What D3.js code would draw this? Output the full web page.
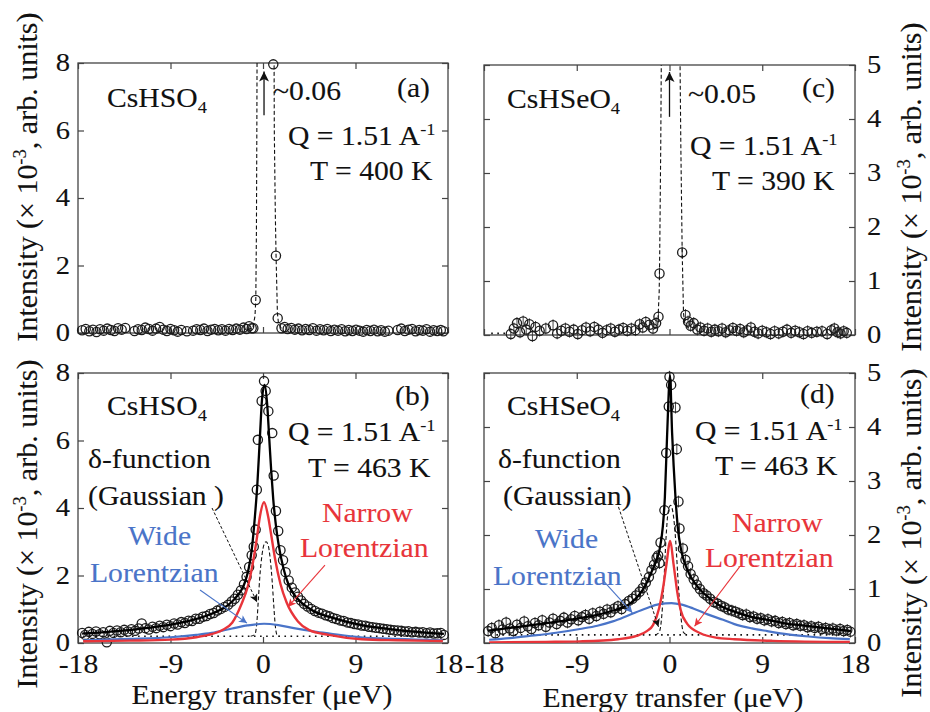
<!DOCTYPE html>
<html lang="en">
<head>
<meta charset="utf-8">
<style>
  body { margin: 0; background: #fff; }
  svg text { font-family: "Liberation Serif", "Times New Roman", serif; fill: #111; stroke: #111; stroke-width: 0.1; }
  .tick line { stroke: #444; stroke-width: 1.2; }
</style>
<script src="https://d3js.org/d3.v7.min.js"></script>
</head>
<body>
<script>
// ---- axes ----
const xTicks = [-18, -9, 0, 9, 18];
const yTicksSO4 = [0, 2, 4, 6, 8];
const yTicksSeO4 = [0, 1, 2, 3, 4, 5];

// ---- (a) CsHSO4, 400 K : points [E, I] ----
const ptsA = [[-17.6,0.08],[-17.25,0.12],[-16.9,0.05],[-16.55,0.10],[-16.2,0.03],[-15.85,0.11],[-15.5,0.07],[-15.15,0.13],[-14.8,0.09],[-14.45,0.06],[-14.1,0.14],[-13.75,0.10],[-13.4,0.15],
  [-12.5,0.06],[-12.15,0.11],[-11.8,0.09],[-11.45,0.16],[-11.1,0.12],[-10.75,0.07],[-10.4,0.13],[-10.05,0.18],[-9.7,0.10],[-9.35,0.06],[-9.0,0.12],[-8.65,0.08],[-8.3,0.04],[-7.95,0.09],[-7.4,0.05],
  [-6.8,0.07],[-6.45,0.11],[-6.1,0.09],[-5.75,0.13],[-5.4,0.06],[-5.05,0.10],[-4.7,0.12],[-4.35,0.08],[-4.0,0.11],[-3.65,0.07],[-3.3,0.12],[-2.95,0.09],[-2.6,0.13],[-2.25,0.10],[-1.9,0.16],[-1.6,0.12],[-1.35,0.20],[-1.1,0.14],[-0.94,0.14],[-0.71,0.98],
  [1.0,7.96],[1.26,2.29],[1.43,0.44],[1.8,0.14],[2.1,0.18],[2.4,0.12],[2.75,0.15],[3.1,0.10],[3.45,0.13],[3.8,0.08],[4.15,0.12],[4.5,0.09],[4.85,0.14],[5.2,0.07],[5.55,0.11],[5.9,0.08],[6.25,0.12],[6.6,0.06],[6.95,0.10],[7.3,0.07],[7.65,0.11],[8.0,0.05],[8.35,0.09],[8.7,0.06],[9.05,0.10],[9.4,0.07],[9.75,0.04],[10.1,0.09],[10.45,0.06],[10.8,0.10],[11.15,0.05],[11.5,0.08],[11.85,0.04],[12.2,0.07],
  [13.1,0.09],[13.45,0.13],[13.8,0.06],[14.15,0.10],[14.5,0.12],[14.85,0.05],[15.2,0.09],[15.55,0.07],[15.9,0.11],[16.25,0.04],[16.6,0.08],[16.95,0.06],[17.3,0.09],[17.55,0.05]];
const deltaA = [[-1.5,0.1],[-1.0,0.15],[-0.78,0.5],[-0.7,1.0],[-0.64,3],[-0.6,6],[-0.57,9],[0.25,60],[1.07,9],[1.1,6],[1.2,3.5],[1.27,2.3],[1.4,0.6],[1.5,0.3],[1.8,0.12]];
const arrowA = [[0.1,6.45],[0.1,7.75]];

// ---- (c) CsHSeO4, 390 K ----
const ptsC = [[-15.4,0.02],[-15.1,0.12],[-14.8,0.22],[-14.5,0.05],[-14.2,0.25],[-13.9,0.10],[-13.6,0.20],[-13.3,-0.02],[-13.0,0.15],[-12.6,0.08],
  [-12.0,0.12],[-11.3,0.18],[-10.9,0.03],[-10.5,0.08],[-10.1,0.12],[-9.7,0.06],[-9.3,0.10],[-8.9,0.02],[-8.5,0.09],[-8.1,0.14],[-7.7,0.07],[-7.3,0.15],[-6.9,0.10],[-6.5,0.04],[-6.1,0.09],[-5.7,0.12],[-5.3,0.06],[-4.9,0.10],[-4.5,0.13],[-4.1,0.08],[-3.7,0.12],[-3.3,0.09],[-2.9,0.20],[-2.6,0.14],[-2.3,0.24],[-1.95,0.19],[-1.6,0.12],[-1.3,0.22],[-1.07,0.34],[-0.97,1.14],
  [1.23,1.53],[1.55,0.37],[1.8,0.25],[2.05,0.17],[2.35,0.22],[2.7,0.10],[3.0,0.14],[3.35,0.08],[3.7,0.12],[4.05,0.06],[4.4,0.10],[4.75,0.07],[5.1,0.12],[5.45,0.05],[5.8,0.09],[6.15,0.13],[6.5,0.08],[6.85,0.11],[7.2,0.05],[7.55,0.09],[7.9,0.14],[8.25,0.06],[8.6,0.03],[9.0,0.08],[9.4,0.05],[9.8,0.02],[10.2,0.07],[10.6,0.03],[11.0,0.06],[11.4,0.10],[11.8,0.04],[12.2,0.08],[12.6,0.05],[13.0,0.02],[13.4,0.07],[13.8,0.04],[14.3,0.06],[14.8,0.07],[15.3,0.02],[15.7,0.09],[16.0,0.12],[16.3,0.05],[16.6,0.03],[16.9,0.07],[17.2,0.04]];
const deltaC = [[-1.6,0.1],[-1.15,0.15],[-1.0,0.8],[-0.95,1.5],[-0.85,3.5],[-0.78,5.5],[0.1,50],[1.0,5.5],[1.1,3.5],[1.23,1.55],[1.36,0.4],[1.5,0.2],[2.0,0.1]];
const bgC = [[-17.3,0.03],[-15.6,0.03]];
const arrowC = [[0,4.04],[0,4.87]];

// ---- (b) CsHSO4, 463 K ----
const ptsB = [[-17.6,0.30],[-17.3,0.24],[-16.95,0.33],[-16.6,0.27],[-16.25,0.34],[-15.9,0.26],[-15.55,0.32],[-15.2,0.02],[-14.9,0.36],[-14.55,0.30],[-14.2,0.37],[-13.85,0.32],[-13.5,0.39],[-13.15,0.34],[-12.8,0.41],[-12.45,0.36],[-12.1,0.43],[-11.8,0.58],[-11.45,0.44],[-11.1,0.40],[-10.75,0.48],[-10.4,0.44],[-10.05,0.51],[-9.7,0.47],[-9.35,0.54],[-9.0,0.50],[-8.65,0.58],[-8.3,0.55],[-7.95,0.62],[-7.6,0.59],[-7.25,0.66],[-6.9,0.65],[-6.55,0.72],[-6.2,0.72],[-5.85,0.78],[-5.5,0.80],[-5.15,0.86],[-4.8,0.89],[-4.45,0.96],[-4.1,1.01],[-3.75,1.07],[-3.4,1.13],[-3.05,1.23],[-2.75,1.31],[-2.45,1.43],[-2.15,1.56],[-1.85,1.74],[-1.6,1.96],[-1.35,2.25],[-1.1,2.6],[-0.9,2.85],[-0.71,3.36],[-0.6,4.54],[-0.5,6.02],[-0.13,7.17],
  [0.1,7.76],[0.26,7.47],[0.52,6.87],[0.9,6.22],[1.04,4.96],[1.26,3.91],[1.48,3.32],[1.7,2.75],[1.95,2.45],[2.2,2.1],[2.5,1.85],[2.8,1.64],[3.1,1.5],[3.4,1.37],[3.7,1.26],[4.0,1.16],[4.35,1.08],[4.7,1.01],[5.05,0.95],[5.4,0.9],[5.75,0.87],[6.1,0.82],[6.45,0.79],[6.8,0.74],[7.15,0.71],[7.5,0.67],[7.85,0.65],[8.2,0.61],[8.55,0.59],[8.9,0.56],[9.25,0.55],[9.6,0.52],[9.95,0.51],[10.3,0.48],[10.65,0.47],[11.0,0.45],[11.35,0.44],[11.7,0.42],[12.05,0.41],[12.4,0.39],[12.75,0.38],[13.1,0.37],[13.45,0.36],[13.8,0.34],[14.15,0.35],[14.5,0.32],[14.85,0.33],[15.2,0.31],[15.55,0.32],[15.9,0.29],[16.25,0.31],[16.6,0.28],[16.95,0.29],[17.3,0.30],[17.6,0.24]];
const totalB = [[-17.6,0.28],[-16,0.31],[-14,0.36],[-12,0.42],[-10,0.5],[-8.6,0.57],[-7,0.67],[-5.3,0.83],[-4.5,0.93],[-3.7,1.06],[-3,1.23],[-2.5,1.4],[-2.1,1.57],[-1.7,1.85],[-1.4,2.2],[-1.1,2.75],[-0.8,3.7],[-0.55,4.7],[-0.3,6.1],[-0.1,7.2],[0.15,7.65],[0.4,7.1],[0.6,6.1],[0.8,5.1],[1.0,4.25],[1.25,3.5],[1.5,2.95],[2.0,2.2],[2.5,1.72],[3.0,1.45],[3.8,1.18],[5,0.93],[6.4,0.78],[8,0.64],[9.6,0.53],[11,0.46],[12.9,0.39],[15,0.33],[17.6,0.27]];
const narrowB = [[-17.5,0.05],[-13,0.07],[-9,0.1],[-6.5,0.17],[-5.3,0.24],[-4,0.38],[-3,0.6],[-2.1,1.15],[-1.5,1.65],[-1.0,2.35],[-0.6,3.1],[-0.3,3.75],[0.1,4.17],[0.5,3.75],[0.8,3.2],[1.2,2.45],[1.7,1.75],[2.3,1.2],[3.4,0.64],[4.5,0.38],[6.4,0.24],[9.6,0.11],[13,0.08],[17.5,0.06]];
const wideB = [[-17.5,0.08],[-13,0.12],[-9,0.17],[-6.5,0.24],[-5,0.3],[-3,0.43],[-1.5,0.52],[0.1,0.57],[1.5,0.53],[3,0.44],[5,0.34],[6.5,0.28],[9.5,0.17],[13,0.12],[17.5,0.08]];
const deltaB = [[-1.2,0.2],[-0.8,0.25],[-0.6,0.6],[-0.45,1.3],[-0.3,2.0],[-0.1,2.6],[0.1,2.92],[0.3,3.0],[0.5,2.9],[0.7,2.5],[0.9,1.8],[1.05,1.1],[1.2,0.5],[1.35,0.25],[1.6,0.2]];
const bgB = [[-17.5,0.2],[17.5,0.2]];
const arrowsB = { delta: [[-4.96,4.0],[-0.58,1.21]], wide: [[-6.13,1.57],[-1.56,0.59]], narrow: [[6.03,2.31],[2.43,1.07]] };

// ---- (d) CsHSeO4, 463 K ----
const ptsD = [[-17.6,0.22],[-17.25,0.28],[-16.9,0.18],[-16.55,0.33],[-16.2,0.25],[-15.85,0.38],[-15.5,0.27],[-15.15,0.22],[-14.8,0.34],[-14.45,0.28],[-14.1,0.40],[-13.75,0.31],[-13.4,0.26],[-13.05,0.37],[-12.7,0.33],[-12.35,0.42],[-12.0,0.30],[-11.65,0.38],[-11.3,0.45],[-10.95,0.35],[-10.6,0.41],[-10.25,0.47],[-9.9,0.38],[-9.55,0.44],[-9.2,0.50],[-8.85,0.42],[-8.5,0.48],[-8.15,0.52],[-7.8,0.45],[-7.45,0.55],[-7.1,0.50],[-6.75,0.58],[-6.4,0.54],[-6.05,0.62],[-5.7,0.57],[-5.35,0.64],[-5.0,0.68],[-4.65,0.63],[-4.3,0.72],[-3.95,0.78],[-3.6,0.82],[-3.25,0.88],[-2.9,0.95],[-2.6,1.02],[-2.3,1.12],[-2.0,1.22],[-1.75,1.35],[-1.5,1.45],[-1.25,1.58],[-1.1,1.62],[-0.97,1.48],[-0.87,1.86],[-0.49,2.46],[-0.32,3.52],[-0.07,4.38],
  [0.0,4.93],[0.16,4.78],[0.58,4.36],[0.71,3.59],[0.87,2.62],[0.97,2.12],[1.3,1.75],[1.55,1.54],[1.8,1.42],[2.05,1.28],[2.35,1.18],[2.65,1.08],[2.95,1.0],[3.3,0.92],[3.6,0.88],[3.95,0.82],[4.3,0.76],[4.65,0.73],[5.0,0.69],[5.35,0.66],[5.7,0.62],[6.05,0.6],[6.4,0.58],[6.75,0.55],[7.1,0.52],[7.45,0.53],[7.8,0.48],[8.15,0.49],[8.5,0.45],[8.85,0.46],[9.2,0.42],[9.55,0.44],[9.9,0.40],[10.25,0.41],[10.6,0.37],[10.95,0.39],[11.3,0.35],[11.65,0.37],[12.0,0.33],[12.35,0.35],[12.7,0.32],[13.05,0.33],[13.4,0.29],[13.75,0.31],[14.1,0.28],[14.45,0.30],[14.8,0.26],[15.15,0.28],[15.5,0.25],[15.85,0.27],[16.2,0.23],[16.55,0.26],[16.9,0.22],[17.25,0.24],[17.55,0.21]];
const totalD = [[-17.6,0.23],[-15,0.29],[-13,0.34],[-11,0.39],[-8.7,0.46],[-7,0.52],[-5.5,0.6],[-4.5,0.66],[-3.9,0.72],[-3,0.88],[-2.3,1.08],[-1.9,1.25],[-1.3,1.52],[-0.97,1.72],[-0.65,2.15],[-0.45,2.7],[-0.23,3.86],[0.05,4.95],[0.25,3.9],[0.58,2.7],[0.8,2.15],[1.13,1.72],[1.5,1.47],[1.94,1.27],[2.5,1.1],[3,0.98],[3.7,0.86],[5,0.68],[6.3,0.58],[8,0.48],[9.5,0.43],[11,0.37],[12.7,0.33],[15,0.28],[17.6,0.22]];
const narrowD = [[-17.5,0.01],[-12,0.02],[-8.7,0.03],[-5,0.07],[-3.2,0.13],[-2.2,0.22],[-1.6,0.33],[-1.0,0.65],[-0.6,1.05],[-0.3,1.45],[0.07,1.89],[0.4,1.45],[0.75,0.95],[1.1,0.6],[1.7,0.36],[3,0.18],[4.5,0.1],[6.3,0.07],[10,0.04],[17.5,0.02]];
const wideD = [[-17.5,0.06],[-15.5,0.09],[-13.6,0.13],[-11,0.19],[-8.7,0.26],[-7,0.32],[-5.5,0.4],[-3.9,0.52],[-2.3,0.64],[-1,0.72],[0.2,0.74],[1.2,0.71],[2.3,0.64],[3.7,0.53],[5.2,0.43],[6.3,0.35],[8,0.27],[9.5,0.22],[11.5,0.16],[13.5,0.12],[15.5,0.09],[17.5,0.07]];
const deltaD = [[-1.4,0.15],[-1.0,0.2],[-0.75,0.5],[-0.55,1.1],[-0.35,1.9],[-0.15,2.4],[0.1,2.55],[0.35,2.4],[0.6,1.9],[0.85,1.1],[1.1,0.5],[1.35,0.2],[1.7,0.15]];
const bgD = [[-16.8,0.15],[16.8,0.15]];
const arrowsD = { delta: [[-4.95,2.52],[-1.07,0.3]], wide: [[-6.5,1.17],[-3.6,0.56]], narrow: [[6.8,1.41],[2.43,0.31]] };

const errSe = 0.11;

// ---- drawing ----
const RED = "#e8343a", BLUE = "#4a74c8", SX = 1.12;
const svg = d3.select("body").append("svg").attr("width", 930).attr("height", 712);

const defs = svg.append("defs");
function marker(id, color, w, l) {
  defs.append("marker").attr("id", id).attr("viewBox", "0 0 10 10")
    .attr("refX", 10).attr("refY", 5).attr("markerUnits", "userSpaceOnUse")
    .attr("markerWidth", l).attr("markerHeight", w).attr("orient", "auto")
    .append("path").attr("d", "M0,0L10,5L0,10L2.5,5z").attr("fill", color);
}
marker("hK", "#111", 8, 11);
marker("hBig", "#111", 10, 14);
marker("hR", RED, 8, 11);
marker("hB", BLUE, 8, 11);

function label(x, y, parts, o = {}) {
  const size = o.size || 26.5;
  const t = svg.append("text")
    .attr("transform", o.rotate ? `translate(${x},${y}) rotate(-90)` : `translate(${x},${y}) scale(${SX},1)`)
    .attr("font-size", size).attr("text-anchor", o.anchor || "start")
    .style("fill", o.color || "#111").style("stroke", o.color || "#111");
  let shift = 0;
  parts.forEach(p => {
    const s = typeof p === "string" ? { t: p } : p;
    const ts = t.append("tspan").text(s.t);
    let target = 0;
    if (s.sup) { ts.attr("font-size", size * 0.62); target = -size * 0.38; }
    if (s.sub) { ts.attr("font-size", size * 0.62); target = size * 0.22; }
    if (target !== shift) { ts.attr("dy", target - shift); shift = target; }
  });
  return t;
}

const panels = [
  { key: "a", l: 78, r: 448, t: 63, b: 333, ymax: 8, yt: yTicksSO4, lab: "left", xlab: false },
  { key: "c", l: 484, r: 855, t: 65, b: 335, ymax: 5, yt: yTicksSeO4, lab: "right", xlab: false },
  { key: "b", l: 78, r: 448, t: 373, b: 643, ymax: 8, yt: yTicksSO4, lab: "left", xlab: true },
  { key: "d", l: 484, r: 855, t: 373, b: 643, ymax: 5, yt: yTicksSeO4, lab: "right", xlab: true }
];

const S = {};
panels.forEach(p => {
  const x = d3.scaleLinear().domain([-18, 18]).range([p.l, p.r]);
  const y = d3.scaleLinear().domain([0, p.ymax]).range([p.b, p.t]);
  S[p.key] = { x, y };
  const g = svg.append("g");
  defs.append("clipPath").attr("id", "clip" + p.key)
    .append("rect").attr("x", p.l).attr("y", p.t).attr("width", p.r - p.l).attr("height", p.b - p.t);

  const fmt = d => String(d);
  const none = () => "";
  const axL = g.append("g").attr("transform", `translate(${p.l},0)`)
    .call(d3.axisLeft(y).tickValues(p.yt).tickSizeInner(-6).tickSizeOuter(0).tickPadding(8)
      .tickFormat(p.lab === "left" ? fmt : none));
  const axR = g.append("g").attr("transform", `translate(${p.r},0)`)
    .call(d3.axisRight(y).tickValues(p.yt).tickSizeInner(-6).tickSizeOuter(0).tickPadding(12)
      .tickFormat(p.lab === "right" ? fmt : none));
  const axT = g.append("g").attr("transform", `translate(0,${p.t})`)
    .call(d3.axisTop(x).tickValues(xTicks).tickSizeInner(-6).tickSizeOuter(0).tickFormat(none));
  const axB = g.append("g").attr("transform", `translate(0,${p.b})`)
    .call(d3.axisBottom(x).tickValues(xTicks).tickSizeInner(-6).tickSizeOuter(0).tickPadding(11)
      .tickFormat(p.xlab ? fmt : none));
  [axL, axR, axT, axB].forEach(a => {
    a.select(".domain").remove();
    a.selectAll("text").attr("font-family", null).attr("font-size", 25.5).each(function () {
      const tx = +this.getAttribute("x") || 0;
      d3.select(this).attr("x", 0).attr("transform", `translate(${tx},0) scale(${SX},1)`);
    });
    a.attr("font-family", null).attr("font-size", null);
  });
  axL.selectAll("text").attr("dy", "0.3em");
  axR.selectAll("text").attr("dy", "0.3em");
  axB.selectAll("text").attr("font-size", 26.5);

  g.append("rect").attr("x", p.l).attr("y", p.t).attr("width", p.r - p.l).attr("height", p.b - p.t)
    .attr("fill", "none").attr("stroke", "#444").attr("stroke-width", 1.3);
});

function lineIn(key, data, style, curve) {
  const { x, y } = S[key];
  const ln = d3.line().x(d => x(d[0])).y(d => y(d[1])).curve(curve || d3.curveMonotoneX);
  const path = svg.append("path").datum(data).attr("d", ln).attr("fill", "none")
    .attr("clip-path", `url(#clip${key})`);
  Object.entries(style).forEach(([k, v]) => path.attr(k, v));
  return path;
}
function points(key, data, err) {
  const { x, y } = S[key];
  const g = svg.append("g");
  if (err) {
    g.selectAll("line").data(data).join("line")
      .attr("x1", d => x(d[0])).attr("x2", d => x(d[0]))
      .attr("y1", d => y(d[1] - err)).attr("y2", d => y(d[1] + err))
      .attr("stroke", "#333").attr("stroke-width", 0.9);
  }
  g.selectAll("circle").data(data).join("circle")
    .attr("cx", d => x(d[0])).attr("cy", d => y(d[1])).attr("r", 4.6)
    .attr("fill", "none").attr("stroke", "#1c1c1c").attr("stroke-width", 1.3);
}
function arrow(key, seg, style, head) {
  const { x, y } = S[key];
  const l = svg.append("line")
    .attr("x1", x(seg[0][0])).attr("y1", y(seg[0][1]))
    .attr("x2", x(seg[1][0])).attr("y2", y(seg[1][1]))
    .attr("marker-end", `url(#${head})`);
  Object.entries(style).forEach(([k, v]) => l.attr(k, v));
}

const dashed = { stroke: "#111", "stroke-width": 1.1, "stroke-dasharray": "4,2.5" };
const dotted = { stroke: "#111", "stroke-width": 1.6, "stroke-dasharray": "1.6,4.5" };

// (a)
points("a", ptsA);
lineIn("a", deltaA, dashed, d3.curveLinear);
arrow("a", arrowA, { stroke: "#111", "stroke-width": 1.3 }, "hBig");

// (c)
lineIn("c", bgC, dotted, d3.curveLinear);
points("c", ptsC, errSe);
lineIn("c", deltaC, dashed, d3.curveLinear);
arrow("c", arrowC, { stroke: "#111", "stroke-width": 1.3 }, "hBig");

// (b)
points("b", ptsB);
lineIn("b", bgB, dotted, d3.curveLinear);
lineIn("b", deltaB, dashed);
lineIn("b", wideB, { stroke: BLUE, "stroke-width": 2.2 });
lineIn("b", narrowB, { stroke: RED, "stroke-width": 2.4 });
lineIn("b", totalB, { stroke: "#000", "stroke-width": 2.3 });
arrow("b", arrowsB.delta, { stroke: "#111", "stroke-width": 1, "stroke-dasharray": "3,2" }, "hK");
arrow("b", arrowsB.wide, { stroke: BLUE, "stroke-width": 1.1 }, "hB");
arrow("b", arrowsB.narrow, { stroke: RED, "stroke-width": 1.1 }, "hR");

// (d)
points("d", ptsD, errSe);
lineIn("d", bgD, dotted, d3.curveLinear);
lineIn("d", deltaD, dashed);
lineIn("d", wideD, { stroke: BLUE, "stroke-width": 2.2 });
lineIn("d", narrowD, { stroke: RED, "stroke-width": 2.4 });
lineIn("d", totalD, { stroke: "#000", "stroke-width": 2.3 });
arrow("d", arrowsD.delta, { stroke: "#111", "stroke-width": 1, "stroke-dasharray": "3,2" }, "hK");
arrow("d", arrowsD.wide, { stroke: BLUE, "stroke-width": 1.1 }, "hB");
arrow("d", arrowsD.narrow, { stroke: RED, "stroke-width": 1.1 }, "hR");

// ---- text ----
const Q = ["Q = 1.51 A", { t: "-1", sup: true }];
label(107, 107, ["CsHSO", { t: "4", sub: true }]);
label(397, 97, ["(a)"]);
label(273, 100, ["~0.06"]);
label(288, 145, Q);
label(310, 180, ["T = 400 K"]);

label(507, 108, ["CsHSeO", { t: "4", sub: true }]);
label(802, 97, ["(c)"]);
label(688, 103, ["~0.05"]);
label(690, 155, Q);
label(712, 190, ["T = 390 K"]);

label(107, 415, ["CsHSO", { t: "4", sub: true }]);
label(395, 405, ["(b)"]);
label(288, 441, Q);
label(308, 477, ["T = 463 K"]);
label(88, 468, ["δ-function"]);
label(88, 505, ["(Gaussian )"]);
label(128, 545, ["Wide"], { color: BLUE });
label(90, 582, ["Lorentzian"], { color: BLUE });
label(322, 522, ["Narrow"], { color: RED });
label(300, 557, ["Lorentzian"], { color: RED });

label(507, 415, ["CsHSeO", { t: "4", sub: true }]);
label(800, 403, ["(d)"]);
label(695, 440, Q);
label(715, 475, ["T = 463 K"]);
label(498, 468, ["δ-function"]);
label(503, 505, ["(Gaussian)"]);
label(535, 548, ["Wide"], { color: BLUE });
label(493, 585, ["Lorentzian"], { color: BLUE });
label(732, 532, ["Narrow"], { color: RED });
label(705, 567, ["Lorentzian"], { color: RED });

label(262, 704, ["Energy transfer (μeV)"], { size: 26.5, anchor: "middle" });
label(673, 707, ["Energy transfer (μeV)"], { size: 26.5, anchor: "middle" });

const yTitle = ["Intensity (× 10", { t: "-3", sup: true }, ", arb. units)"];
label(37, 177, yTitle, { size: 30, anchor: "middle", rotate: true });
label(37, 524, yTitle, { size: 30, anchor: "middle", rotate: true });
label(921, 187, yTitle, { size: 30, anchor: "middle", rotate: true });
label(921, 533, yTitle, { size: 30, anchor: "middle", rotate: true });
</script>
</body>
</html>
